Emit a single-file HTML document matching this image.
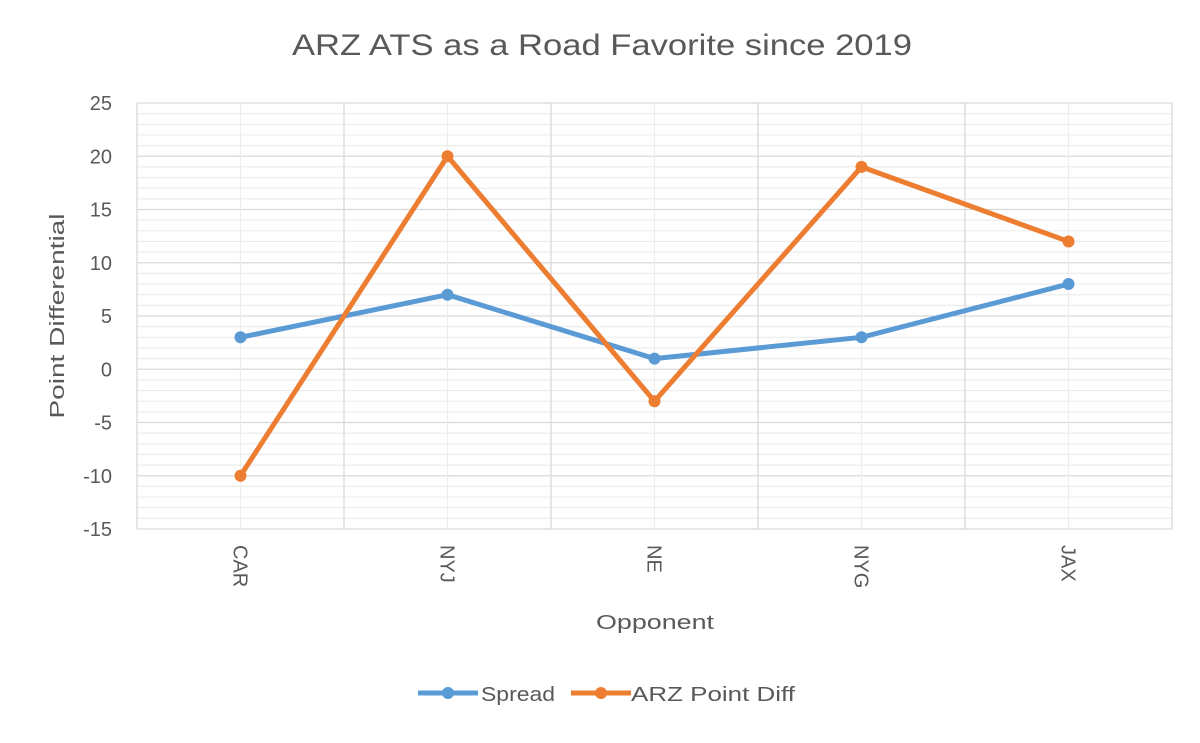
<!DOCTYPE html>
<html><head><meta charset="utf-8"><style>
body{margin:0;background:#fff;font-family:"Liberation Sans",sans-serif;}
svg text{font-family:"Liberation Sans",sans-serif;fill:#595959;}
</style></head><body>
<svg id="chart" width="1200" height="738">
<text x="292" y="55" font-size="30" textLength="620" lengthAdjust="spacingAndGlyphs">ARZ ATS as a Road Favorite since 2019</text>
<g id="grid"></g><g id="axes"></g><g id="series"></g>
<text transform="translate(64,316) rotate(-90)" text-anchor="middle" font-size="20" textLength="205" lengthAdjust="spacingAndGlyphs">Point Differential</text>
<text x="596" y="629" font-size="20" textLength="118" lengthAdjust="spacingAndGlyphs">Opponent</text>
<g>
<g><line x1="418" y1="693" x2="478" y2="693" stroke="#5b9bd5" stroke-width="5"/><circle cx="448" cy="693" r="6" fill="#5b9bd5"/><text x="481" y="701" font-size="20" textLength="74" lengthAdjust="spacingAndGlyphs">Spread</text></g>
<g><line x1="571" y1="693" x2="631" y2="693" stroke="#ed7d31" stroke-width="5"/><circle cx="601" cy="693" r="6" fill="#ed7d31"/><text x="631" y="701" font-size="20" textLength="164" lengthAdjust="spacingAndGlyphs">ARZ Point Diff</text></g>
</g>
</svg>
<script>
const categories=["CAR","NYJ","NE","NYG","JAX"];
const spread=[3,7,1,3,8];
const pointDiff=[-10,20,-3,19,12];
const yTicks=[-15,-10,-5,0,5,10,15,20,25];
const NS="http://www.w3.org/2000/svg";
const L=137,R=1172,T=103,B=529,yMin=-15,yMax=25;
const y=v=>B-(v-yMin)/(yMax-yMin)*(B-T);
const bw=(R-L)/categories.length;
const x=i=>L+bw*(i+0.5);
function mk(p,tag,a){const e=document.createElementNS(NS,tag);for(const k in a)e.setAttribute(k,a[k]);p.appendChild(e);return e;}
const grid=document.getElementById('grid'),axes=document.getElementById('axes'),ser=document.getElementById('series');
for(let v=yMin;v<=yMax;v++){
 const l=mk(grid,'line',{x1:L,x2:R,y1:y(v),y2:y(v),stroke:v%5===0?'#d9d9d9':'#ececec','stroke-width':v%5===0?1.3:1.2});
 
 
}
for(let i=0;i<=categories.length;i++){
 const l=mk(grid,'line',{x1:L+bw*i,x2:L+bw*i,y1:T,y2:B,stroke:'#d9d9d9','stroke-width':1.3});
 
 
 if(i<categories.length){
  const m=mk(grid,'line',{x1:x(i),x2:x(i),y1:T,y2:B,stroke:'#ededed','stroke-width':1.2});
  
  
 }
}
yTicks.forEach(v=>{
 const t=mk(axes,'text',{x:112,y:y(v)+7,'text-anchor':'end','font-size':20});
 t.textContent=v;
 
 
});
categories.forEach((c,i)=>{
 const t=mk(axes,'text',{transform:`translate(${x(i)-7},545) rotate(90)`,'font-size':20});
 t.textContent=c;
 
 
});
function draw(vals,color,name){
 const pl=mk(ser,'polyline',{points:vals.map((v,i)=>x(i)+','+y(v)).join(' '),fill:'none',stroke:color,'stroke-width':5,'stroke-linejoin':'round'});
 
 
 vals.forEach((v,i)=>{
  const c=mk(ser,'circle',{cx:x(i),cy:y(v),r:6,fill:color});
  
  
 });
}
draw(spread,'#5b9bd5','spread');
draw(pointDiff,'#ed7d31','arz-point-diff');
</script>
</body></html>
